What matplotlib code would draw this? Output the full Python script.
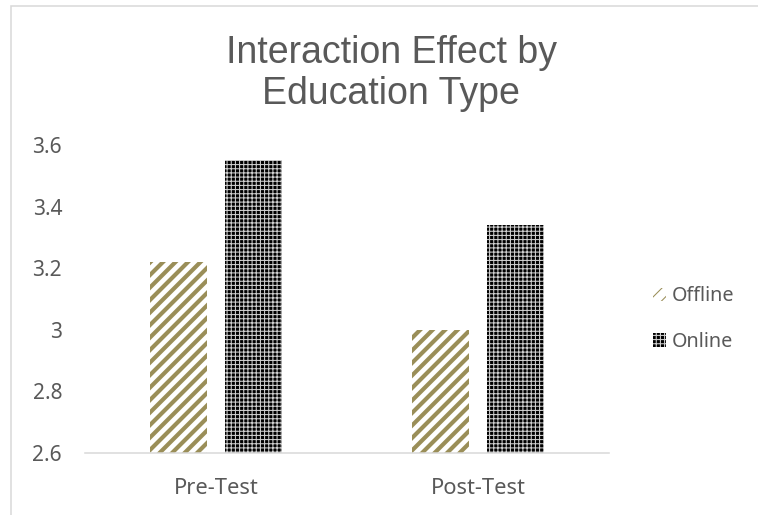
import matplotlib
matplotlib.use('Agg')
import matplotlib.pyplot as plt
import numpy as np
from matplotlib.patches import Rectangle

categories = ['Pre-Test', 'Post-Test']
offline = [3.22, 3.0]
online = [3.55, 3.34]
yticks = [2.6, 2.8, 3.0, 3.2, 3.4, 3.6]
ytick_labels = ['2.6', '2.8', '3', '3.2', '3.4', '3.6']

GRAY = '#595959'
OLIVE = '#9a8e58'

# dpi 75 keeps the hatch spacing close to the original stripes
fig = plt.figure(figsize=(758 / 75, 515 / 75), dpi=75)
ax = fig.add_axes([85 / 758, 1 - 453 / 515, 524 / 758, 308 / 515])

x = np.arange(len(categories))
w = 0.22
off = 0.143

with plt.rc_context({'hatch.linewidth': 4.0}):
    b1 = ax.bar(x - off, [v - 2.6 for v in offline], w, bottom=2.6,
                facecolor='white', edgecolor=OLIVE, linewidth=0,
                hatch='//', label='Offline')
with plt.rc_context({'hatch.linewidth': 1.0}):
    b2 = ax.bar(x + off, [v - 2.6 for v in online], w, bottom=2.6,
                facecolor='black', edgecolor='#d0d0d0', linewidth=0,
                hatch='+++', label='Online')

ax.set_xlim(-0.5, 1.5)
ax.set_ylim(2.6, 3.6)
ax.set_yticks(yticks)
ax.set_yticklabels(ytick_labels)
ax.set_xticks(x)
ax.set_xticklabels(categories)

for s in ['top', 'right', 'left']:
    ax.spines[s].set_visible(False)
ax.spines['bottom'].set_color('#d9d9d9')
ax.spines['bottom'].set_linewidth(1.5)
ax.tick_params(axis='both', length=0, colors=GRAY)
ax.tick_params(axis='y', pad=22, labelsize=20)
ax.tick_params(axis='x', pad=24, labelsize=21)
for t in ax.get_xticklabels() + ax.get_yticklabels():
    t.set_fontfamily('Noto Sans')

fig.text(391 / 758, 1 - 35 / 515, 'Interaction Effect by\nEducation Type',
         ha='center', va='top', fontsize=36, color=GRAY,
         family='Liberation Sans', linespacing=1.18)

leg = fig.legend(handles=[b1, b2], loc='center left',
                 bbox_to_anchor=(635 / 758, 1 - 319 / 515),
                 frameon=False, prop={'family': 'Noto Sans', 'size': 19},
                 labelcolor=GRAY, handlelength=0.65, handleheight=0.65,
                 handletextpad=0.3, labelspacing=1.3)

# outer chart border
fig.patches.append(Rectangle((11 / 758, -0.1), 1.1, 1 - 6 / 515 + 0.1,
                             transform=fig.transFigure, fill=False,
                             edgecolor='#d9d9d9', linewidth=1.5))

fig.savefig('out.png', dpi=75, facecolor='white')
